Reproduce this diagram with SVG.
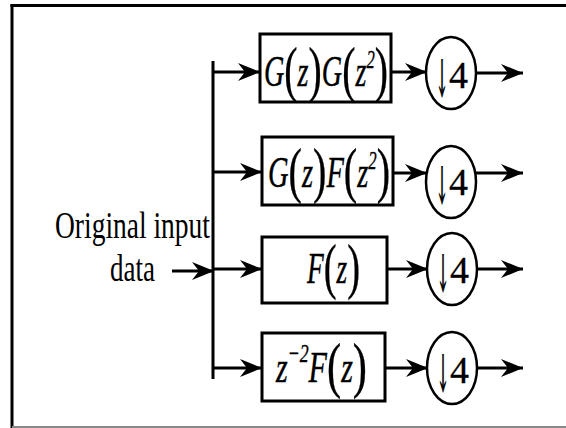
<svg xmlns="http://www.w3.org/2000/svg" width="566" height="428" viewBox="0 0 566 428">
<defs>
<marker id="ah" markerUnits="userSpaceOnUse" markerWidth="24" markerHeight="20" refX="22" refY="9" orient="auto">
<path d="M0,0 L22,9 L0,18 L7,9 Z" fill="#000"/>
</marker>
<style>
.box{fill:#fff;stroke:#000;stroke-width:3}
.ell{fill:#fff;stroke:#000;stroke-width:2.5}
.ln{fill:none;stroke:#000;stroke-width:3}
.ar{fill:none;stroke:#000;stroke-width:3;marker-end:url(#ah)}
.t{font-family:"Liberation Serif","Times New Roman",serif;fill:#000}
.m{font-family:"Liberation Serif","Times New Roman",serif;font-style:italic;font-size:44px;fill:#000;stroke:#000;stroke-width:0.4}
.p{font-style:normal;font-size:62px}
.sup{font-size:26px}
.d{font-family:"Liberation Serif","Times New Roman",serif;font-size:38px;fill:#000;stroke:#000;stroke-width:0.3}
.da{font-family:"DejaVu Serif","DejaVu Sans",serif;font-size:50px;fill:#000;stroke:#000;stroke-width:1.5;opacity:0.99}
</style>
</defs>
<rect x="0" y="0" width="566" height="428" fill="#fff"/>
<g id="frame">
<line x1="10.5" y1="5.5" x2="566" y2="5.5" stroke="#000" stroke-width="3"/>
<line x1="12" y1="4" x2="12" y2="428" stroke="#000" stroke-width="3"/>
<line x1="12" y1="427" x2="566" y2="427" stroke="#888" stroke-width="2"/>
</g>
<g id="input-label">
<text class="t" x="55" y="238" font-size="37" textLength="155" lengthAdjust="spacingAndGlyphs">Original input</text>
<text class="t" x="110" y="281" font-size="37" textLength="45" lengthAdjust="spacingAndGlyphs">data</text>
</g>
<g id="connectors">
<line class="ar" x1="172" y1="271" x2="214" y2="271"/>
<line class="ln" x1="213" y1="61" x2="213" y2="379" stroke-width="2.5"/>
<line class="ar" x1="213" y1="72" x2="260" y2="72"/>
<line class="ar" x1="213" y1="172" x2="262" y2="172"/>
<line class="ar" x1="213" y1="269" x2="262" y2="269"/>
<line class="ar" x1="213" y1="368" x2="262" y2="368"/>
<line class="ar" x1="391" y1="72" x2="427" y2="72"/>
<line class="ar" x1="393" y1="173" x2="427" y2="173"/>
<line class="ar" x1="380" y1="269" x2="428" y2="269"/>
<line class="ar" x1="378" y1="368" x2="428" y2="368"/>
<line class="ar" x1="476" y1="73" x2="523" y2="73"/>
<line class="ar" x1="476" y1="173" x2="523" y2="173"/>
<line class="ar" x1="477" y1="269" x2="523" y2="269"/>
<line class="ar" x1="477" y1="368" x2="523" y2="368"/>
</g>
<g id="box1">
<rect class="box" x="260" y="34" width="131" height="68"/>
<text class="m" x="264" y="86" textLength="124" lengthAdjust="spacingAndGlyphs">G<tspan class="p" dy="4">(</tspan><tspan dy="-4">z</tspan><tspan class="p" dy="4">)</tspan><tspan dy="-4">G</tspan><tspan class="p" dy="4">(</tspan><tspan dy="-4">z</tspan><tspan class="sup" dy="-18">2</tspan><tspan class="p" dy="22">)</tspan></text>
</g>
<g id="box2">
<rect class="box" x="262" y="137" width="131" height="68"/>
<text class="m" x="268" y="187" textLength="122" lengthAdjust="spacingAndGlyphs">G<tspan class="p" dy="4">(</tspan><tspan dy="-4">z</tspan><tspan class="p" dy="4">)</tspan><tspan dy="-4">F</tspan><tspan class="p" dy="4">(</tspan><tspan dy="-4">z</tspan><tspan class="sup" dy="-18">2</tspan><tspan class="p" dy="22">)</tspan></text>
</g>
<g id="box3">
<rect class="box" x="262" y="237" width="125" height="66"/>
<text class="m" x="307" y="283" textLength="53" lengthAdjust="spacingAndGlyphs">F<tspan class="p" dy="4">(</tspan><tspan dy="-4">z</tspan><tspan class="p" dy="4">)</tspan></text>
</g>
<g id="box4">
<rect class="box" x="262" y="333" width="123" height="68"/>
<text class="m" x="276" y="382" textLength="91" lengthAdjust="spacingAndGlyphs">z<tspan class="sup" dy="-20">−2</tspan><tspan dy="20">F</tspan><tspan class="p" dy="4">(</tspan><tspan dy="-4">z</tspan><tspan class="p" dy="4">)</tspan></text>
</g>
<g id="down1">
<ellipse class="ell" cx="451" cy="73" rx="25" ry="36"/>
<text class="da" x="436" y="96" textLength="12" lengthAdjust="spacingAndGlyphs">↓</text>
<text class="d" x="449" y="88" textLength="19" lengthAdjust="spacingAndGlyphs">4</text>
</g>
<g id="down2">
<ellipse class="ell" cx="451" cy="182" rx="25" ry="36"/>
<text class="da" x="436" y="203" textLength="12" lengthAdjust="spacingAndGlyphs">↓</text>
<text class="d" x="449" y="195" textLength="19" lengthAdjust="spacingAndGlyphs">4</text>
</g>
<g id="down3">
<ellipse class="ell" cx="452" cy="269" rx="25" ry="36"/>
<text class="da" x="437" y="291" textLength="12" lengthAdjust="spacingAndGlyphs">↓</text>
<text class="d" x="450" y="283" textLength="19" lengthAdjust="spacingAndGlyphs">4</text>
</g>
<g id="down4">
<ellipse class="ell" cx="452" cy="368" rx="25" ry="36"/>
<text class="da" x="437" y="391" textLength="12" lengthAdjust="spacingAndGlyphs">↓</text>
<text class="d" x="450" y="383" textLength="19" lengthAdjust="spacingAndGlyphs">4</text>
</g>
</svg>
